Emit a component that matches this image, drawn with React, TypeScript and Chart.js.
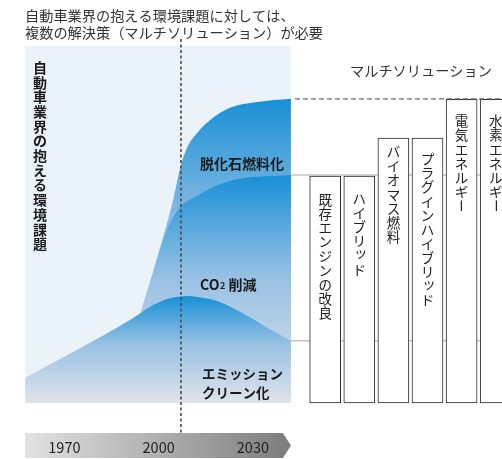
import React, { useEffect, useRef } from "react";
import { Chart, registerables } from "chart.js";

Chart.register(...registerables);

// ---------- text ----------
const TITLE_LINES = ["自動車業界の抱える環境課題に対しては、", "複数の解決策（マルチソリューション）が必要"];
const SIDE_TITLE = "自動車業界の抱える環境課題";
const SOLUTIONS_HEADING = "マルチソリューション";
const LABEL_DEFOSSIL = "脱化石燃料化";
const LABEL_CO2 = ["CO", "2", " 削減"];
const LABEL_EMISSION = ["エミッション", "クリーン化"];

// ---------- data (year, level) ----------
const EMISSION_YEARS = [1957.5, 1991.9, 1997.2, 2002.0, 2006.8, 2009.3, 2012.2, 2017.3, 2022.7, 2028.1, 2033.2, 2037.0, 2042.1];
const EMISSION_LEVELS = [7.0, 23.8, 26.9, 28.9, 29.8, 30.0, 29.7, 28.9, 27.0, 24.4, 21.8, 19.9, 17.4];

const CO2_YEARS = [1994.4, 1997.9, 2001.4, 2004.2, 2007.1, 2012.2, 2017.3, 2025.9, 2033.9, 2042.1];
const CO2_LEVELS = [25.8, 35.6, 45.7, 51.3, 55.2, 58.0, 60.5, 62.8, 63.5, 63.9];

const DEFOSSIL_YEARS = [1994.4, 1999.8, 2004.6, 2007.1, 2009.3, 2012.2, 2017.3, 2022.7, 2031.3, 2042.1];
const DEFOSSIL_LEVELS = [25.8, 41.5, 56.9, 66.7, 72.0, 75.6, 79.9, 82.7, 84.3, 85.2];

const TIMELINE_TICKS = [1970, 2000, 2030];
const NOW_YEAR = 2007.1;

const SOLUTION_LABELS = ["既存エンジンの改良", "ハイブリッド", "バイオマス燃料", "プラグインハイブリッド", "電気エネルギー", "水素エネルギー"];
const SOLUTION_LEVELS = [63.6, 63.6, 74.2, 74.2, 85.1, 85.1];

// ---------- layout ----------
const W = 502;
const H = 459;
const X_MIN = 1949.5;
const X_MAX = 2109.3;
const XB_MIN = -9.537;
const XB_MAX = 5.185;
const Y_MIN = -15.7;
const Y_MAX = 112.9;
const PANEL_START = 1957.5;
const PANEL_END = 2042.1;
const PANEL_TOP = 100;
const DASH_START = 2043.4;
const BAR_TEXT_OFFSETS = [24, 23, 14, 21, 22, 22];
const JP = "'Noto Sans CJK JP', 'Noto Sans', sans-serif";

const pts = (xs: number[], ys: number[]) => xs.map((x, i) => ({ x, y: ys[i] }));

const makeFill = (levels: number[]) => (c: any) => {
  const chart = c.chart;
  const y = chart.scales && chart.scales.y;
  if (!y || !chart.chartArea) return "rgba(30,146,214,0.8)";
  const top = y.getPixelForValue(Math.max(...levels));
  const bottom = y.getPixelForValue(0);
  const g = chart.ctx.createLinearGradient(0, top, 0, bottom);
  g.addColorStop(0, "rgb(24,144,214)");
  g.addColorStop(0.45, "rgb(152,193,228)");
  g.addColorStop(1, "rgb(224,228,233)");
  return g;
};

const SMALL_KANA = "ッャュョィァェォ";

function drawVertical(ctx: CanvasRenderingContext2D, text: string, cx: number, startY: number, pitch: number) {
  [...text].forEach((ch, i) => {
    const y = startY + i * pitch;
    if (ch === "ー") {
      ctx.save();
      ctx.translate(cx, y);
      ctx.rotate(Math.PI / 2);
      ctx.fillText(ch, 0, 0);
      ctx.restore();
    } else if (SMALL_KANA.includes(ch)) {
      ctx.fillText(ch, cx + 1.5, y - 2);
    } else {
      ctx.fillText(ch, cx, y);
    }
  });
}

const decorPlugin = {
  id: "decor",
  beforeDatasetsDraw(chart: any) {
    const { ctx, scales } = chart;
    const x = scales.x;
    const y = scales.y;
    const l = x.getPixelForValue(PANEL_START);
    const r = x.getPixelForValue(PANEL_END);
    const t = y.getPixelForValue(PANEL_TOP);
    const b = y.getPixelForValue(0);
    ctx.save();
    ctx.fillStyle = "#eaf2fa";
    ctx.fillRect(l, t, r - l, b - t);
    ctx.restore();
  },
  afterDatasetsDraw(chart: any) {
    const { ctx, scales } = chart;
    const x = scales.x;
    const xb = scales.xb;
    const y = scales.y;
    ctx.save();
    ctx.textBaseline = "middle";

    // title
    ctx.fillStyle = "#333";
    ctx.textAlign = "left";
    ctx.font = `14.2px ${JP}`;
    ctx.fillText(TITLE_LINES[0], 25, 16);
    ctx.fillText(TITLE_LINES[1], 25, 33);

    // side title
    ctx.fillStyle = "#1a1a1a";
    ctx.textAlign = "center";
    ctx.font = `bold 14px ${JP}`;
    drawVertical(ctx, SIDE_TITLE, 40, 67.5, 14.7);

    // panel labels
    ctx.textAlign = "left";
    ctx.font = `bold 14px ${JP}`;
    ctx.fillText(LABEL_DEFOSSIL, 200, 164);
    ctx.fillText(LABEL_CO2[0], 200, 285);
    const coW = ctx.measureText(LABEL_CO2[0]).width;
    ctx.font = `bold 9px ${JP}`;
    ctx.fillText(LABEL_CO2[1], 200 + coW + 0.5, 286);
    const twoW = ctx.measureText(LABEL_CO2[1]).width;
    ctx.font = `bold 14px ${JP}`;
    ctx.fillText(LABEL_CO2[2], 200 + coW + twoW + 0.5, 285);
    ctx.font = `bold 13.5px ${JP}`;
    ctx.fillText(LABEL_EMISSION[0], 202, 374);
    ctx.fillText(LABEL_EMISSION[1], 202, 393);

    // heading
    ctx.fillStyle = "#333";
    ctx.font = `14.2px ${JP}`;
    ctx.fillText(SOLUTIONS_HEADING, 350, 71);

    // bar labels
    ctx.fillStyle = "#222";
    ctx.textAlign = "center";
    ctx.font = `13.5px ${JP}`;
    SOLUTION_LABELS.forEach((label, i) => {
      const cx = xb.getPixelForValue(i);
      const top = y.getPixelForValue(SOLUTION_LEVELS[i]);
      drawVertical(ctx, label, cx, top + BAR_TEXT_OFFSETS[i], 14.1);
    });

    // timeline arrow
    const l = x.getPixelForValue(PANEL_START);
    const r = x.getPixelForValue(PANEL_END);
    const tt = 433;
    const tb = 458;
    const g = ctx.createLinearGradient(l, 0, r, 0);
    g.addColorStop(0, "#e2e2e2");
    g.addColorStop(1, "#7c7c7c");
    ctx.fillStyle = g;
    ctx.beginPath();
    ctx.moveTo(l, tt);
    ctx.lineTo(r - 8, tt);
    ctx.lineTo(r, (tt + tb) / 2);
    ctx.lineTo(r - 8, tb);
    ctx.lineTo(l, tb);
    ctx.closePath();
    ctx.fill();

    ctx.fillStyle = "#222";
    ctx.textAlign = "center";
    ctx.font = `14.5px ${JP}`;
    TIMELINE_TICKS.forEach((yr) => {
      ctx.fillText(String(yr), x.getPixelForValue(yr), 447);
    });
    ctx.restore();
  },
};

export default function App() {
  const ref = useRef<HTMLCanvasElement | null>(null);

  useEffect(() => {
    if (!ref.current) return;
    const chart = new Chart(ref.current, {
      type: "line",
      data: {
        datasets: [
          {
            label: "now",
            data: [
              { x: NOW_YEAR, y: 102 },
              { x: NOW_YEAR, y: -8.4 },
            ],
            borderColor: "#4a4a4a",
            borderWidth: 1.6,
            borderDash: [3, 2.5],
            pointRadius: 0,
            fill: false,
            order: 0,
          },
          {
            type: "bar",
            label: "solutions",
            xAxisID: "xb",
            data: SOLUTION_LEVELS.map((v, i) => ({ x: i, y: v })),
            backgroundColor: "#ffffff",
            borderColor: "#2a2a2a",
            borderWidth: 1,
            borderSkipped: false,
            barThickness: 31,
            grouped: false,
            order: 1,
          } as any,
          {
            label: "defossil-line",
            data: [
              { x: DASH_START, y: DEFOSSIL_LEVELS[DEFOSSIL_LEVELS.length - 1] },
              { x: X_MAX, y: DEFOSSIL_LEVELS[DEFOSSIL_LEVELS.length - 1] },
            ],
            borderColor: "#6a6a6a",
            borderWidth: 1.2,
            borderDash: [5, 3],
            pointRadius: 0,
            fill: false,
            order: 0.5,
          },
          {
            label: "co2-line",
            data: [
              { x: PANEL_END, y: CO2_LEVELS[CO2_LEVELS.length - 1] },
              { x: X_MAX, y: CO2_LEVELS[CO2_LEVELS.length - 1] },
            ],
            borderColor: "#c4c4c4",
            borderWidth: 1.5,
            pointRadius: 0,
            fill: false,
            order: 2,
          },
          {
            label: "emission-line",
            data: [
              { x: PANEL_END, y: EMISSION_LEVELS[EMISSION_LEVELS.length - 1] },
              { x: X_MAX, y: EMISSION_LEVELS[EMISSION_LEVELS.length - 1] },
            ],
            borderColor: "#c4c4c4",
            borderWidth: 1.5,
            pointRadius: 0,
            fill: false,
            order: 2,
          },
          {
            label: "emission",
            data: pts(EMISSION_YEARS, EMISSION_LEVELS),
            backgroundColor: makeFill(EMISSION_LEVELS),
            borderWidth: 0,
            pointRadius: 0,
            cubicInterpolationMode: "monotone",
            fill: "origin",
            order: 3,
          },
          {
            label: "co2",
            data: pts(CO2_YEARS, CO2_LEVELS),
            backgroundColor: makeFill(CO2_LEVELS),
            borderWidth: 0,
            pointRadius: 0,
            cubicInterpolationMode: "monotone",
            fill: "origin",
            order: 4,
          },
          {
            label: "defossil",
            data: pts(DEFOSSIL_YEARS, DEFOSSIL_LEVELS),
            backgroundColor: makeFill(DEFOSSIL_LEVELS),
            borderWidth: 0,
            pointRadius: 0,
            cubicInterpolationMode: "monotone",
            fill: "origin",
            order: 5,
          },
        ],
      },
      options: {
        responsive: false,
        animation: false,
        devicePixelRatio: 1,
        events: [],
        layout: { padding: 0 },
        plugins: { legend: { display: false }, tooltip: { enabled: false } },
        scales: {
          x: { type: "linear", min: X_MIN, max: X_MAX, offset: false, display: false },
          xb: { type: "linear", min: XB_MIN, max: XB_MAX, offset: false, display: false },
          y: { type: "linear", min: Y_MIN, max: Y_MAX, offset: false, display: false },
        },
      } as any,
      plugins: [decorPlugin],
    });
    return () => chart.destroy();
  }, []);

  return (
    <div style={{ position: "absolute", left: 0, top: 0, width: W, height: H, background: "#fff" }}>
      <canvas ref={ref} width={W} height={H} style={{ display: "block" }} />
    </div>
  );
}
